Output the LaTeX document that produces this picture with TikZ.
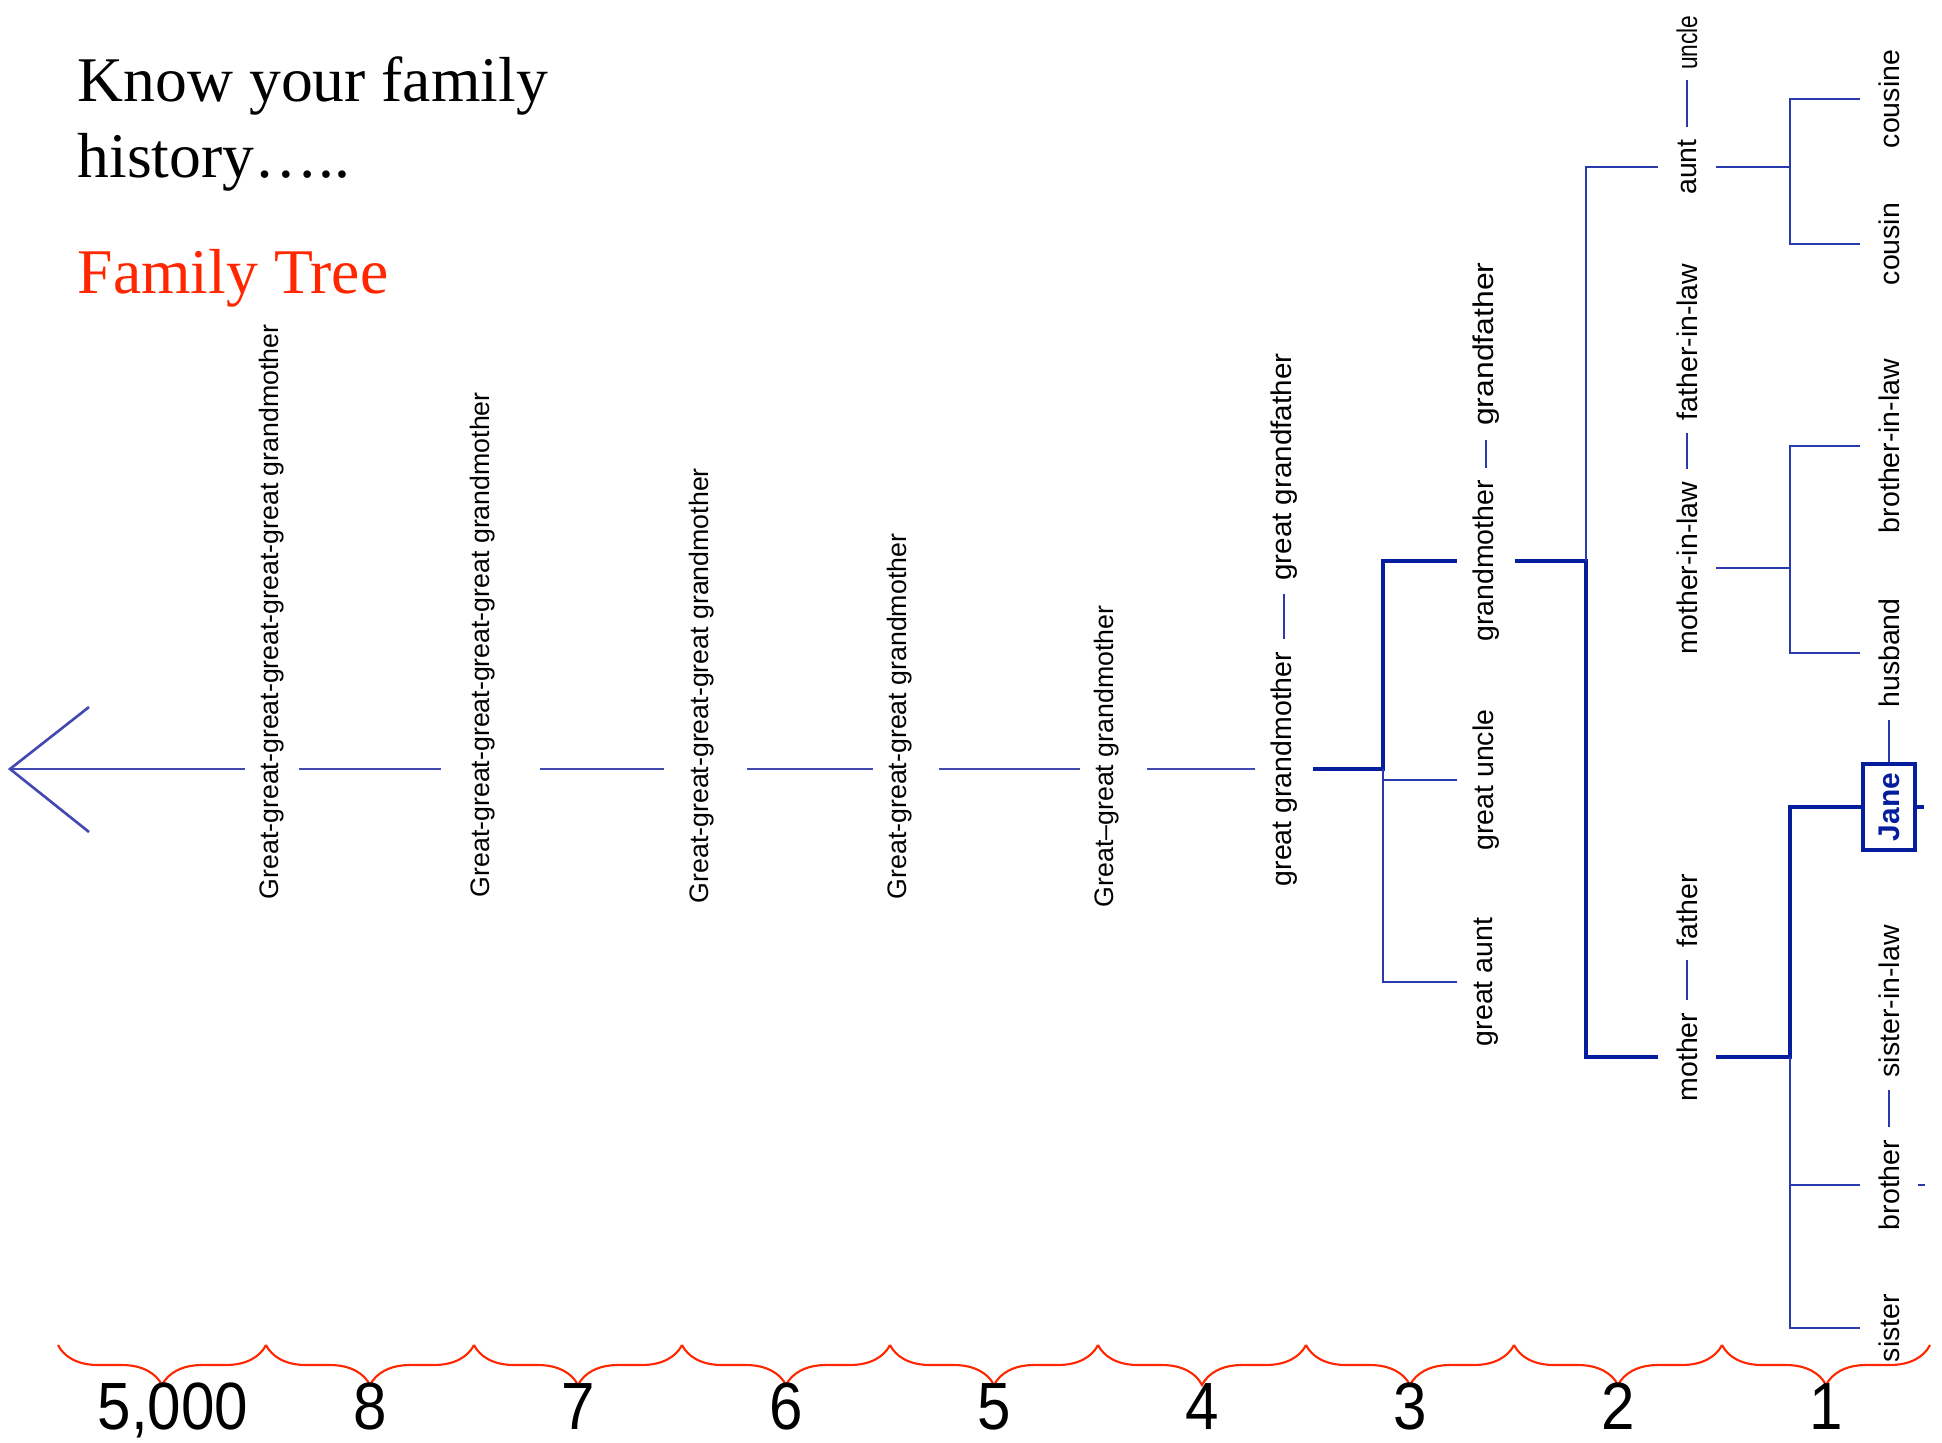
\documentclass[tikz,border=0pt]{standalone}
\usepackage{fontspec}
\setmainfont{Liberation Serif}
\newfontfamily\arial{Liberation Sans}
\usetikzlibrary{decorations.pathreplacing}
\definecolor{axisblue}{RGB}{66,74,178}
\definecolor{treeblue}{RGB}{40,58,172}
\definecolor{navy}{RGB}{6,30,158}
\definecolor{slidered}{RGB}{255,38,0}
\tikzset{
  head/.style={anchor=base west, inner sep=0pt, font=\fontsize{18.1}{21.5}\selectfont},
  gen/.style={rotate=90, anchor=west, inner xsep=0pt, inner ysep=0pt, minimum height=0.52cm, font=\arial\fontsize{7.6}{9}\selectfont},
  rel/.style={rotate=90, inner xsep=0.12cm, inner ysep=0pt, minimum height=0.56cm, font=\arial\fontsize{8.1}{9.5}\selectfont},
  me/.style={rotate=90, draw=navy, line width=1.15pt, text=navy, inner sep=0pt, minimum width=0.86cm, minimum height=0.52cm, font=\arial\bfseries\fontsize{8.5}{10}\selectfont},
  yr/.style={anchor=base, inner sep=0pt, xscale=0.9, font=\arial\fontsize{19}{22}\selectfont},
  timeline/.style={axisblue, line width=0.75pt},
  twig/.style={treeblue, line width=0.6pt},
  trunk/.style={navy, line width=1.15pt},
  bracket/.style={slidered, line width=0.6pt, decorate, decoration={brace, mirror, amplitude=0.4cm}}
}
\begin{document}
\begin{tikzpicture}[x=0.01cm, y=-0.01cm]
\useasboundingbox (0,0) rectangle (1942,1442);
\node[head] (know) at (77,101.6) {Know your family};
\node[head] (hist) at (77,177) {history…..};
\node[head, text=slidered] (ftree) at (77,293.5) {Family Tree};

\node[gen] (g6) at (272,900) {Great-great-great-great-great-great grandmother};
\node[gen] (g5) at (483,898) {Great-great-great-great-great grandmother};
\node[gen] (g4) at (702,904) {Great-great-great-great grandmother};
\node[gen] (g3) at (900,900) {Great-great-great grandmother};
\node[gen] (g2) at (1107,908) {Great–great grandmother};
\node[rel] (ggm) at (1284,769) {great grandmother};
\node[rel, anchor=west, xscale=1.04] (ggf) at (1284,594) {great grandfather};

\coordinate (tip) at (10,769);
\coordinate (armup) at (89,707);
\coordinate (armdn) at (89,832);
\draw[timeline] (armup) -- (tip) -- (armdn);
\draw[timeline] (tip) -- (g6.north |- tip);
\draw[timeline, shorten >=0.15cm] (g6.south |- tip) -- (g5.north |- tip);
\draw[timeline, shorten <=0.3cm, shorten >=0.11cm] (g5.south |- tip) -- (g4.north |- tip);
\draw[timeline, shorten <=0.18cm] (g4.south |- tip) -- (g3.north |- tip);
\draw[timeline, shorten <=0.12cm] (g3.south |- tip) -- (g2.north |- tip);
\draw[timeline, shorten <=0.13cm] (g2.south |- tip) -- (ggm.north);

\node[rel] (gm) at (1486,561) {grandmother};
\node[rel, anchor=west, xscale=1.12] (gf) at (1486,440) {grandfather};
\node[rel] (gu) at (1486,780) {great uncle};
\node[rel] (ga) at (1486,982) {great aunt};
\node[rel] (au) at (1687,167) {aunt};
\node[rel, anchor=west, xscale=0.8] (un) at (1687,80) {uncle};
\node[rel] (mil) at (1687,568) {mother-in-law};
\node[rel, anchor=west] (fil) at (1687,433) {father-in-law};
\node[rel] (mo) at (1687,1057) {mother};
\node[rel, anchor=west] (fa) at (1687,960) {father};
\node[rel] (cse) at (1889,99) {cousine};
\node[rel] (csn) at (1889,244) {cousin};
\node[rel] (bil) at (1889,446) {brother-in-law};
\node[rel] (hus) at (1889,653) {husband};
\node[me] (jane) at (1889,807) {Jane};
\node[rel] (br) at (1889,1185) {brother};
\node[rel, anchor=west] (sil) at (1889,1090) {sister-in-law};
\node[rel] (si) at (1889,1328) {sister};

\coordinate (b3) at (1383,769);
\draw[trunk] (ggm.south) -- (b3) |- (gm.north);
\draw[twig] (b3) |- (gu.north);
\draw[twig] (b3) |- (ga.north);
\draw[twig] (ggm.east) -- (ggf.west);

\coordinate (b2) at (1586,561);
\draw[trunk] (gm.south) -- (b2) |- (mo.north);
\draw[twig] (b2) |- (au.north);
\draw[twig] (gm.east) -- (gf.west);

\coordinate (ba) at (1790,167);
\draw[twig] (au.south) -- (ba);
\draw[twig] (cse.north) -| (ba) |- (csn.north);
\draw[twig] (au.east) -- (un.west);

\coordinate (bl) at (1790,568);
\draw[twig] (mil.south) -- (bl);
\draw[twig] (bil.north) -| (bl) |- (hus.north);
\draw[twig] (mil.east) -- (fil.west);

\coordinate (b1) at (1790,1057);
\draw[trunk] (mo.south) -- (b1) |- (jane.north);
\draw[twig] (b1) |- (br.north);
\draw[twig] (b1) |- (si.north);
\draw[twig] (mo.east) -- (fa.west);

\draw[twig] (hus.west) -- (jane.east);
\coordinate (stub) at (1924,807);
\draw[trunk] (jane.south) -- (stub);
\coordinate (tick) at (1925,1185);
\draw[twig] (br.south) -- (tick);
\draw[twig] (br.east) -- (sil.west);

\foreach \yr [count=\i from 0] in {{5,000},8,7,6,5,4,3,2,1} {
  \pgfmathsetmacro\xc{162+208*\i+11*equal(\i,0)}
  \draw[bracket] (58+208*\i,1345) -- (266+208*\i,1345);
  \node[yr] (y\i) at (\xc,1429) {\yr};
}
\end{tikzpicture}
\end{document}
